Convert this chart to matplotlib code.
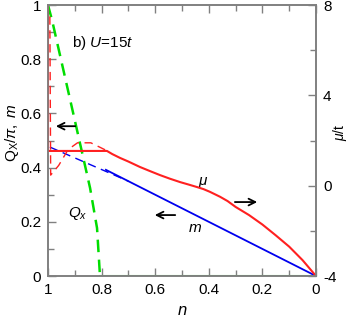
import numpy as np
import matplotlib
matplotlib.use("Agg")
import matplotlib.pyplot as plt

plt.rcParams['font.family'] = ['Liberation Sans', 'DejaVu Sans']
plt.rcParams['mathtext.fontset'] = 'custom'
plt.rcParams['mathtext.rm'] = 'Liberation Sans'
plt.rcParams['mathtext.it'] = 'Liberation Sans:italic'
plt.rcParams['axes.unicode_minus'] = False
plt.rcParams['font.size'] = 10

# Q_x / pi (left axis), dashed part and zero part
qx_n = [1.0, 0.985, 0.9, 0.843, 0.817, 0.806]
qx_val = [1.0, 0.945, 0.575, 0.325, 0.177, 0.0]
qx0_n = [0.806, 0.0]
qx0_val = [0.0, 0.0]

# m (left axis)
m_n = [0.784, 0.0]
m_val = [0.392, 0.0]
m_dash_n = [0.993, 0.7]
m_dash_val = [0.476, 0.35]

# mu / t (right axis)
mu_n = [1.0, 1.0, 0.78, 0.76, 0.731, 0.70, 0.657, 0.62, 0.582, 0.545, 0.507,
        0.475, 0.444, 0.42, 0.396, 0.358, 0.33, 0.3, 0.25, 0.2, 0.15, 0.1, 0.05, 0.0]
mu_val = [8.0, 1.54, 1.54, 1.40, 1.23, 1.07, 0.83, 0.65, 0.47, 0.31, 0.16,
          0.05, -0.06, -0.15, -0.27, -0.49, -0.68, -0.94, -1.3, -1.72, -2.2, -2.7, -3.3, -4.0]
mu_dash_n = [0.993, 0.99, 0.96, 0.925, 0.89, 0.84, 0.78]
mu_dash_val = [7.5, 0.47, 0.9, 1.6, 1.9, 1.9, 1.55]

fig = plt.figure(figsize=(3.49, 3.18), dpi=100)
ax = fig.add_axes([0.1375, 0.132, 0.768, 0.852])
ax2 = ax.twinx()

grey = '#808080'
ax.plot(qx_n, qx_val, color='#00dd00', lw=1.8, ls=(0, (5, 3)))
ax.plot(qx0_n, qx0_val, color='#00dd00', lw=2.2)
ax.plot(m_dash_n, m_dash_val, color='#0000ee', lw=1.0, ls=(0, (6, 4)))
ax.plot(m_n, m_val, color='#0000ee', lw=1.3)
ax2.plot(mu_dash_n, mu_dash_val, color='#ff2020', lw=1.0, ls=(0, (6, 4)))
ax2.plot(mu_n, mu_val, color='#ff2020', lw=1.5)

ax.set_xlim(1, 0)
ax.set_ylim(0, 1)
ax2.set_ylim(-4, 8)

ax.set_xticks([1, 0.8, 0.6, 0.4, 0.2, 0])
ax.set_xticklabels(['1', '0.8', '0.6', '0.4', '0.2', '0'])
ax.set_xticks(np.arange(0.1, 1.0, 0.2), minor=True)
ax.set_yticks([0, 0.2, 0.4, 0.6, 0.8, 1])
ax.set_yticklabels(['0', '0.2', '0.4', '0.6', '0.8', '1'])
ax.set_yticks(np.arange(0.1, 1.0, 0.2), minor=True)
ax2.set_yticks([-4, 0, 4, 8])
ax2.set_yticks([-2, 2, 6], minor=True)

for a in (ax, ax2):
    for s in a.spines.values():
        s.set_color(grey)
        s.set_linewidth(1.2)
ax.tick_params(which='both', direction='in', color=grey, top=True, labelsize=11, pad=5)
ax.tick_params(which='major', length=6, width=1)
ax.tick_params(which='minor', length=4, width=1)
ax2.tick_params(which='both', direction='in', color=grey, labelsize=11, pad=5)
ax2.tick_params(which='major', length=6, width=1)
ax2.tick_params(which='minor', length=4, width=1)

ax.set_xlabel(r'$n$', fontsize=12)
ax.xaxis.set_label_coords(0.5, -0.1)
ax.set_ylabel(r'$\mathrm{Q}_\mathrm{X}/\pi,\ m$', fontsize=11)
ax.yaxis.set_label_coords(-0.1, 0.53)
ax2.set_ylabel(r'$\mu$/t', fontsize=10, rotation=90)
ax2.yaxis.set_label_coords(1.055, 0.53)

ax.text(0.91, 0.86, r'b) $U$=15$t$', fontsize=11, va='center')
ax.text(0.89, 0.232, r'$Q_x$', fontsize=11, ha='center', va='center')
ax.text(0.42, 0.345, r'$\mu$', fontsize=11, ha='center', va='center')
ax.text(0.451, 0.177, r'$m$', fontsize=11, ha='center', va='center')

arrow = dict(arrowstyle='->', color='black', lw=1.3, mutation_scale=12)
ax.annotate('', xy=(0.981, 0.553), xytext=(0.888, 0.553), arrowprops=arrow)
ax.annotate('', xy=(0.612, 0.225), xytext=(0.515, 0.225), arrowprops=arrow)
ax.annotate('', xy=(0.209, 0.273), xytext=(0.313, 0.273), arrowprops=arrow)

fig.savefig('out.png', dpi=100)
